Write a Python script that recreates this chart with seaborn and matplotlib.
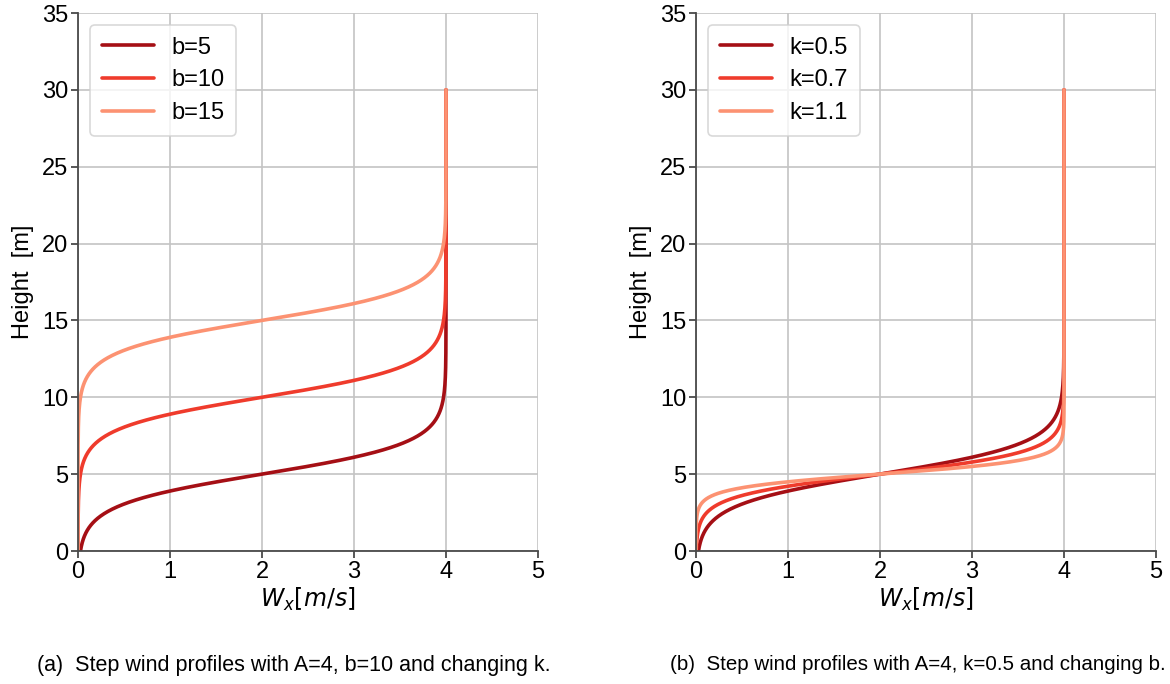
import numpy as np
import pandas as pd
import matplotlib
matplotlib.use("Agg")
import matplotlib.pyplot as plt
import seaborn as sns

# Step wind profile parameters
A = 4.0
b_values = [5, 10, 15]          # left panel, k fixed
k_fixed = 0.5
k_values = [0.5, 0.7, 1.1]      # right panel, b fixed
b_fixed = 5
z_max = 30.0

colors = ["#a50f15", "#ef3b2c", "#fc9272"]

caption_a = "(a)  Step wind profiles with A=4, b=10 and changing k."
caption_b = "(b)  Step wind profiles with A=4, k=0.5 and changing b."

z = np.linspace(0.0, z_max, 1201)


def step_profile(z, A, b, k):
    return A / 2.0 * (1.0 + np.tanh(k * (z - b)))


sns.set_theme(style="ticks")
plt.rcParams["font.family"] = ["Liberation Sans", "DejaVu Sans"]
plt.rcParams["mathtext.fontset"] = "dejavusans"
plt.rcParams["text.color"] = "black"
plt.rcParams["axes.labelcolor"] = "black"

fig = plt.figure(figsize=(11.7, 6.84), dpi=100)
ax1 = fig.add_axes([78 / 1170, 1 - 551 / 684, 460 / 1170, 538 / 684])
ax2 = fig.add_axes([696 / 1170, 1 - 551 / 684, 460 / 1170, 538 / 684])

panels = [
    (ax1, [(A, b, k_fixed, f"b={b}") for b in b_values]),
    (ax2, [(A, b_fixed, k, f"k={k}") for k in k_values]),
]

for ax, curves in panels:
    for (a, b, k, lab), col in zip(curves, colors):
        df = pd.DataFrame({"W": step_profile(z, a, b, k), "z": z})
        sns.lineplot(data=df, x="W", y="z", sort=False, estimator=None,
                     color=col, linewidth=2.6, label=lab, ax=ax)
    ax.set_xlim(0, 5)
    ax.set_ylim(0, 35)
    ax.set_xticks(range(0, 6))
    ax.set_yticks(range(0, 36, 5))
    ax.grid(True, color="#c4c4c4", linewidth=1.2)
    ax.set_axisbelow(True)
    sns.despine(ax=ax)
    for sp in ("left", "bottom"):
        ax.spines[sp].set_color("#4a4a4a")
        ax.spines[sp].set_linewidth(1.3)
    ax.tick_params(axis="both", labelsize=17, color="#4a4a4a",
                   length=5, width=1.3, pad=2, labelcolor="black")
    ax.set_xlabel(r"$W_x[m/s]$", fontsize=17, labelpad=2, color="black")
    ax.set_ylabel("Height  [m]", fontsize=17, labelpad=6, color="black")
    leg = ax.legend(loc="upper left", fontsize=17, frameon=True,
                    handlelength=2.2, borderpad=0.5, labelspacing=0.45,
                    handletextpad=0.75, fancybox=True, borderaxespad=0.5)
    for t in leg.get_texts():
        t.set_color("black")
    leg.get_frame().set_edgecolor("#d0d0d0")
    leg.get_frame().set_linewidth(1.2)

fig.text(294 / 1170, 1 - 665 / 684, caption_a, ha="center", va="center",
         fontsize=15.5, color="black")
fig.text(1166 / 1170, 1 - 665 / 684, caption_b, ha="right", va="center",
         fontsize=14.8, color="black")

fig.savefig("out.png", dpi=100)
